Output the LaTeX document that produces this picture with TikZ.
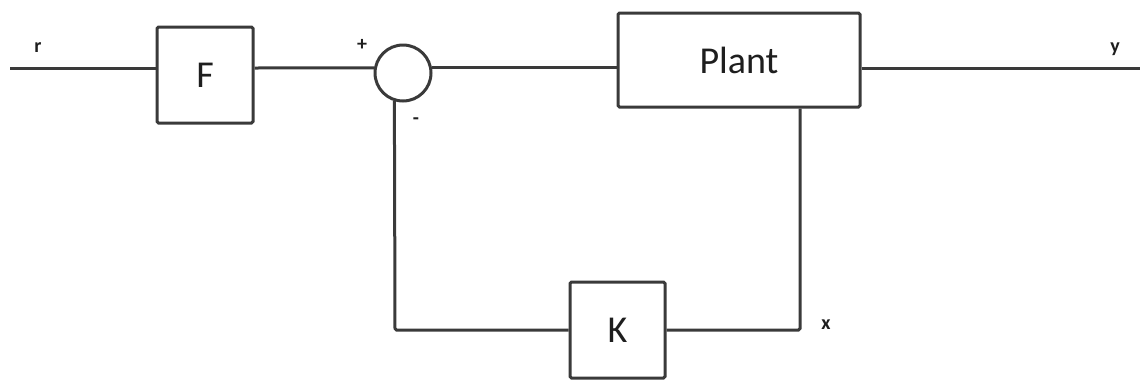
\documentclass[tikz,border=0pt]{standalone}
\usepackage{fontspec}
\setmainfont{Carlito}
\definecolor{ln}{HTML}{3A3A3A}
\definecolor{tx}{HTML}{1E1E1E}
\begin{document}
\begin{tikzpicture}[x=1pt,y=-1pt,
  blk/.style={draw=ln,line width=3pt,rounded corners=1.5pt,inner sep=0pt,text=tx,font=\fontsize{38}{42}\selectfont},
  wire/.style={draw=ln,line width=3pt},
  lbl/.style={text=tx,inner sep=0pt,font=\bfseries\fontsize{20}{23}\selectfont}]
\useasboundingbox (0,0) rectangle (1140,381);
\node[blk,minimum width=96pt,minimum height=96pt] (F) at (205,75) {F};
\node[draw=ln,line width=3pt,circle,minimum size=56pt,inner sep=0pt] (sum) at (403,73) {};
\node[blk,minimum width=242pt,minimum height=94pt] (P) at (739,60) {Plant};
\node[blk,minimum width=95pt,minimum height=96pt] (K) at (617.5,330) {K};
\coordinate (rin) at (10,68);
\coordinate (yout) at (1141,68);
\coordinate (pb) at (800,330);
\coordinate (fl) at (395,330);
\node[lbl] (r) at (38,48) {r};
\node[lbl] (plus) at (362,45) {+};
\node[lbl] (minus) at (416,121) {-};
\node[lbl] (y) at (1115,49) {y};
\node[lbl] (x) at (826,325) {x};
\draw[wire] (rin) -- (F.west |- rin);
\draw[wire] (F.east |- rin) -- (sum.170);
\draw[wire] (sum.10) -- (P.west |- sum.10);
\draw[wire] (P.east |- yout) -- (yout);
\draw[wire,rounded corners=1.5pt] (P.south -| pb) -- (pb) -- (K.east);
\draw[wire,rounded corners=1.5pt] (K.west) -- (fl) -- (sum.253);
\end{tikzpicture}
\end{document}
